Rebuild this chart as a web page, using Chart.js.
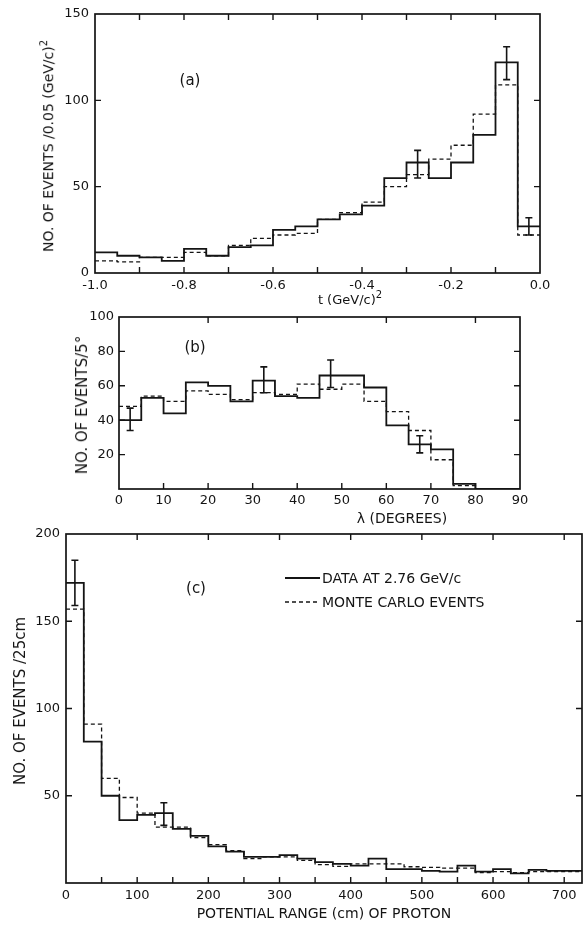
<!DOCTYPE html>
<html>
<head>
<meta charset="utf-8">
<script src="https://cdn.jsdelivr.net/npm/chart.js@4.4.1/dist/chart.umd.min.js"></script>
<style>
  html, body { margin: 0; padding: 0; background: #fff; }
  #wrap { position: relative; width: 584px; height: 926px; overflow: hidden; font-family: "DejaVu Sans", sans-serif; color: #141414; }
  canvas { position: absolute; left: 0; top: 0; }
  .lbl { position: absolute; white-space: nowrap; transform: translate(-50%, -50%); font-size: 14px; }
  .ytitle { position: absolute; white-space: nowrap; transform: translate(-50%, -50%) rotate(-90deg); font-size: 14px; }
  sup { font-size: 10px; }
</style>
</head>
<body>
<div id="wrap">
  <canvas id="chartA" width="584" height="926"></canvas>
  <canvas id="chartB" width="584" height="926"></canvas>
  <canvas id="chartC" width="584" height="926"></canvas>

  <div class="ytitle" style="left:47px; top:146px;">NO. OF EVENTS /0.05 (GeV/c)<sup>2</sup></div>
  <div class="lbl" style="left:350px; top:298px; font-size:13px;">t (GeV/c)<sup>2</sup></div>
  <div class="lbl" style="left:190px; top:80px; font-size:15px;">(a)</div>

  <div class="ytitle" style="left:82px; top:405px; font-size:15px;">NO. OF EVENTS/5°</div>
  <div class="lbl" style="left:402px; top:518px;">λ (DEGREES)</div>
  <div class="lbl" style="left:195px; top:347px; font-size:15px;">(b)</div>

  <div class="ytitle" style="left:20px; top:701px; font-size:15px;">NO. OF EVENTS /25cm</div>
  <div class="lbl" style="left:324px; top:913px;">POTENTIAL RANGE (cm) OF PROTON</div>
  <div class="lbl" style="left:196px; top:588px; font-size:15px;">(c)</div>
</div>
<script>
// ==================== DADOS ====================
// (a) distribuição em t, bins de 0.05 (GeV/c)^2
const tEdges = [-1.0, -0.95, -0.9, -0.85, -0.8, -0.75, -0.7, -0.65, -0.6, -0.55, -0.5,
                -0.45, -0.4, -0.35, -0.3, -0.25, -0.2, -0.15, -0.1, -0.05, 0.0];
const tData = [12, 10, 9, 7, 14, 10, 15, 16, 25, 27, 31, 34, 39, 55, 64, 55, 64, 80, 122, 27];
const tMonte = [7, 6.5, 9, 9, 12, 10, 16, 20, 22, 23, 31, 35, 41, 50, 57, 66, 74, 92, 109, 22];
const tErrX = [-0.275, -0.075, -0.025];
const tErrLo = [55, 112, 22];
const tErrHi = [71, 131, 32];

// (b) distribuição em lambda, bins de 5 graus
const lamEdges = [0, 5, 10, 15, 20, 25, 30, 35, 40, 45, 50, 55, 60, 65, 70, 75, 80, 85, 90];
const lamData = [40, 53, 44, 62, 60, 51, 63, 54, 53, 66, 66, 59, 37, 26, 23, 3, 0, 0];
const lamMonte = [48, 54, 51, 57, 55, 52, 56, 55, 61, 58, 61, 51, 45, 34, 17, 2, 0, 0];
const lamErrX = [2.5, 32.5, 47.5, 67.5];
const lamErrLo = [34, 56, 59, 21];
const lamErrHi = [47, 71, 75, 31];

// (c) alcance potencial do próton, bins de 25 cm
const rangeEdges = [0, 25, 50, 75, 100, 125, 150, 175, 200, 225, 250, 275, 300, 325, 350,
                    375, 400, 425, 450, 475, 500, 525, 550, 575, 600, 625, 650, 675, 700, 725];
const rangeData = [172, 81, 50, 36, 39, 40, 31, 27, 21, 18, 15, 15, 16, 14, 12,
                   11, 10, 14, 8, 8, 7, 6.5, 10, 6.5, 8, 5.5, 7.5, 7, 7];
const rangeMonte = [157, 91, 60, 49, 40, 32, 32, 26, 22, 18.5, 14, 15, 15, 13, 10.5,
                    9.5, 11, 11, 11, 9.3, 9, 8.5, 8.5, 6, 6.5, 6, 6.5, 6.5, 6.5];
const rangeErrX = [12.5, 137.5];
const rangeErrLo = [159, 33];
const rangeErrHi = [185, 46];

const legendLabels = ['DATA AT 2.76 GeV/c', 'MONTE CARLO EVENTS'];

// ==================== AUXILIARES ====================
const FONT = 'DejaVu Sans';
const INK = '#141414';

function histPoints(edges, vals) {
    return edges.map((x, i) => ({ x: x, y: vals[Math.min(i, vals.length - 1)] }));
}

function histSet(label, edges, vals, dashed) {
    return {
        label: label,
        data: histPoints(edges, vals),
        stepped: true,
        borderColor: INK,
        borderWidth: dashed ? 1.3 : 1.8,
        borderDash: dashed ? [4, 3] : [],
        pointRadius: 0,
        fill: false
    };
}

// moldura, ticks para dentro, barras de erro e legenda
const boxPlugin = {
    id: 'box',
    afterDatasetsDraw(chart, args, o) {
        const { ctx, chartArea: a } = chart;
        const sx = chart.scales.x, sy = chart.scales.y;
        const L = 6;
        ctx.save();
        ctx.strokeStyle = INK;
        ctx.setLineDash([]);
        ctx.lineWidth = 1.7;
        ctx.strokeRect(a.left, a.top, a.right - a.left, a.bottom - a.top);

        ctx.lineWidth = 1.4;
        ctx.beginPath();
        (o.bottom || []).forEach(v => { const p = sx.getPixelForValue(v); ctx.moveTo(p, a.bottom); ctx.lineTo(p, a.bottom - L); });
        (o.top || []).forEach(v => { const p = sx.getPixelForValue(v); ctx.moveTo(p, a.top); ctx.lineTo(p, a.top + L); });
        (o.left || []).forEach(v => { const p = sy.getPixelForValue(v); ctx.moveTo(a.left, p); ctx.lineTo(a.left + L, p); });
        (o.right || []).forEach(v => { const p = sy.getPixelForValue(v); ctx.moveTo(a.right, p); ctx.lineTo(a.right - L, p); });
        ctx.stroke();

        if (o.err) {
            ctx.lineWidth = 1.6;
            ctx.beginPath();
            o.err.x.forEach((xv, i) => {
                const px = sx.getPixelForValue(xv);
                const p1 = sy.getPixelForValue(o.err.lo[i]);
                const p2 = sy.getPixelForValue(o.err.hi[i]);
                ctx.moveTo(px, p1); ctx.lineTo(px, p2);
                ctx.moveTo(px - 3.5, p1); ctx.lineTo(px + 3.5, p1);
                ctx.moveTo(px - 3.5, p2); ctx.lineTo(px + 3.5, p2);
            });
            ctx.stroke();
        }

        if (o.legend) {
            const lg = o.legend;
            ctx.font = '14px "' + FONT + '"';
            ctx.fillStyle = INK;
            ctx.textBaseline = 'middle';
            chart.data.datasets.forEach((ds, i) => {
                const y = lg.y + i * lg.gap;
                ctx.lineWidth = ds.borderWidth;
                ctx.setLineDash(ds.borderDash);
                ctx.beginPath();
                ctx.moveTo(lg.x, y); ctx.lineTo(lg.x + lg.len, y);
                ctx.stroke();
                ctx.setLineDash([]);
                ctx.fillText(ds.label, lg.x + lg.len + 2, y + 1);
            });
        }
        ctx.restore();
    }
};

function tickOpts(step, pad, cb) {
    return {
        stepSize: step, autoSkip: false, maxRotation: 0, padding: pad, includeBounds: false,
        color: INK, font: { family: FONT, size: 13 }, callback: cb
    };
}

function panel(canvasId, area, xs, ys, datasets, box) {
    return new Chart(document.getElementById(canvasId), {
        type: 'line',
        data: { datasets: datasets },
        options: {
            responsive: false,
            animation: false,
            events: [],
            layout: { padding: { left: 0, top: area.top, right: 584 - area.right, bottom: 926 - area.bottom - 30 } },
            plugins: { legend: { display: false }, tooltip: { enabled: false }, box: box },
            scales: {
                x: Object.assign({
                    type: 'linear', position: 'bottom',
                    grid: { display: false, drawTicks: false }, border: { display: false },
                    afterFit: s => { s.height = 30; }
                }, xs),
                y: Object.assign({
                    type: 'linear', position: 'left',
                    grid: { display: false, drawTicks: false }, border: { display: false },
                    afterFit: s => { s.width = area.left; }
                }, ys)
            }
        },
        plugins: [boxPlugin]
    });
}

// ==================== GRÁFICOS ====================
panel('chartA', { left: 95, right: 540, top: 14, bottom: 273 },
    { min: -1, max: 0, ticks: tickOpts(0.2, 5, v => (Math.abs(v) < 1e-9 ? '0.0' : v.toFixed(1))) },
    { min: 0, max: 150, ticks: tickOpts(50, 6, v => v) },
    [histSet(legendLabels[0], tEdges, tData, false), histSet(legendLabels[1], tEdges, tMonte, true)],
    {
        bottom: [-0.9, -0.8, -0.7, -0.6, -0.5, -0.4, -0.3, -0.2, -0.1],
        top: [-0.9, -0.8, -0.7, -0.6, -0.5, -0.4, -0.3, -0.2, -0.1],
        left: [50, 100], right: [50, 100],
        err: { x: tErrX, lo: tErrLo, hi: tErrHi }
    });

panel('chartB', { left: 119, right: 520, top: 317, bottom: 489 },
    { min: 0, max: 90, ticks: tickOpts(10, 4, v => v) },
    { min: 0, max: 100, ticks: tickOpts(20, 5, v => (v === 0 ? '' : v)) },
    [histSet(legendLabels[0], lamEdges, lamData, false), histSet(legendLabels[1], lamEdges, lamMonte, true)],
    {
        bottom: [10, 20, 30, 40, 50, 60, 70, 80],
        top: [20, 40, 60, 80],
        left: [20, 40, 60, 80], right: [20, 40, 60, 80],
        err: { x: lamErrX, lo: lamErrLo, hi: lamErrHi }
    });

panel('chartC', { left: 66, right: 582, top: 534, bottom: 883 },
    { min: 0, max: 725, ticks: tickOpts(100, 5, v => (v % 100 === 0 ? v : '')) },
    { min: 0, max: 200, ticks: tickOpts(50, 6, v => (v === 0 ? '' : v)) },
    [histSet(legendLabels[0], rangeEdges, rangeData, false), histSet(legendLabels[1], rangeEdges, rangeMonte, true)],
    {
        bottom: [50, 100, 150, 200, 250, 300, 350, 400, 450, 500, 550, 600, 650, 700],
        top: [100, 200, 300, 400, 500, 600, 700],
        left: [50, 100, 150], right: [50, 100, 150],
        err: { x: rangeErrX, lo: rangeErrLo, hi: rangeErrHi },
        legend: { x: 285, y: 578, len: 35, gap: 24 }
    });
</script>
</body>
</html>
